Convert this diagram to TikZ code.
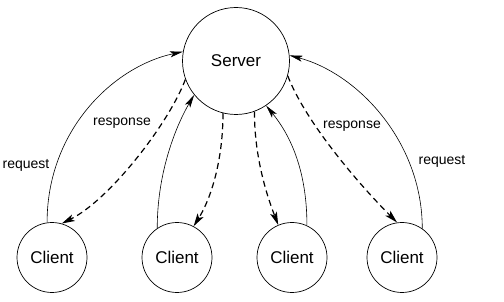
\documentclass[tikz,border=0pt]{standalone}
\usepackage{fontspec}
\setmainfont{Liberation Sans}
\usetikzlibrary{arrows.meta}
\begin{document}
\begin{tikzpicture}[x=1pt,y=-1pt,
  srv/.style={circle,draw,line width=0.7pt,minimum size=107pt,inner sep=0pt,font=\fontsize{17}{20}\selectfont},
  cli/.style={circle,draw,line width=0.7pt,minimum size=70pt,inner sep=0pt,font=\fontsize{17}{20}\selectfont},
  req/.style={line width=0.6pt,-{Stealth[length=13pt,width=6pt,inset=3pt]}},
  resp/.style={line width=1.2pt,dash pattern=on 6pt off 4pt,-{Stealth[length=13pt,width=7pt,inset=3pt]}},
  lbl/.style={font=\fontsize{14}{16}\selectfont,inner sep=0pt}]
\useasboundingbox (0,0) rectangle (504,302);
\node[srv] (s) at (236,61) {Server};
\node[cli] (c1) at (52,257.5) {Client};
\node[cli] (c2) at (177,257.5) {Client};
\node[cli] (c3) at (292,257.5) {Client};
\node[cli] (c4) at (402,257.5) {Client};
% requests
\draw[req] (c1.98) .. controls +(0,-92) and +(-70,15) .. (s.170);
\draw[req] (c2.124) .. controls +(0,-58) and +(-17,29) .. (s.219);
\draw[req] (c3.65) .. controls +(0,-57) and +(23,28) .. (s.304);
\draw[req] (c4.55) .. controls +(0,-87) and +(68,18) .. (s.6);
% responses
\draw[resp] (s.200) .. controls +(-17,45) and +(47,-23) .. (c1.74);
\draw[resp] (s.256) .. controls +(0,48) and +(17,-27) .. (c2.62);
\draw[resp] (s.290) .. controls +(0,48) and +(-10,-26) .. (c3.113);
\draw[resp] (s.344) .. controls +(18,47) and +(-37,-37) .. (c4.98);
% labels
\node[lbl] (l1) at (26,165) {request};
\node[lbl] (l2) at (122,123) {response};
\node[lbl] (l3) at (352,126) {response};
\node[lbl] (l4) at (442,161) {request};
\end{tikzpicture}
\end{document}
